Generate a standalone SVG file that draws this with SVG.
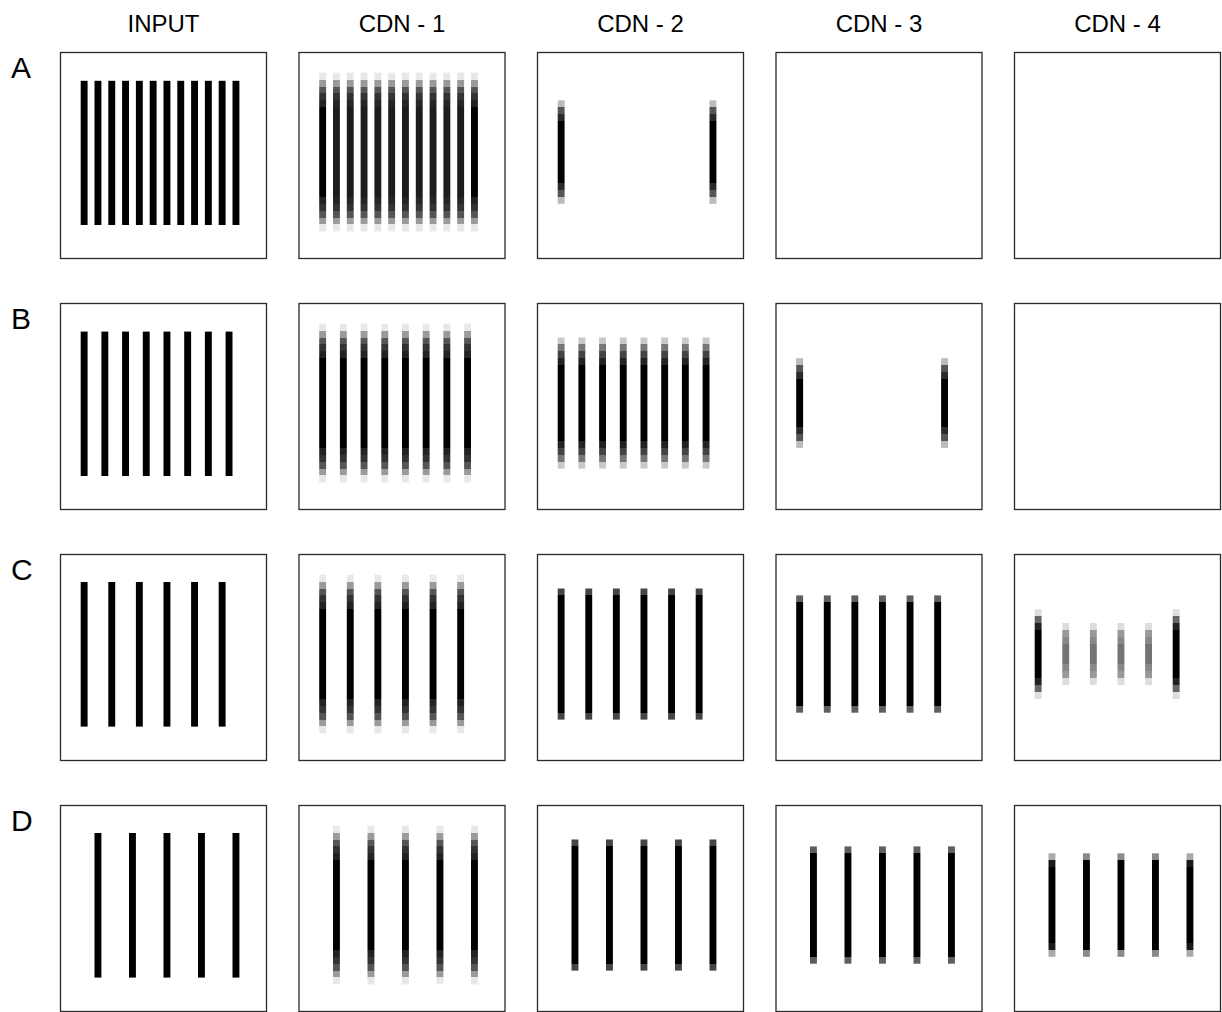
<svg xmlns="http://www.w3.org/2000/svg" width="1222" height="1012" viewBox="0 0 1222 1012">
<style>
text { font-family: "Liberation Sans", Arial, sans-serif; fill: #000; }
.col { font-size: 24px; text-anchor: middle; }
.row { font-size: 30px; }
.frame { fill: #fff; stroke: #2a2a2a; stroke-width: 1.3; }
.in { fill: #000; }
.b1e { fill: url(#g1e); } .b1i { fill: url(#g1i); }
.b2a { fill: url(#g2a); } .b2b { fill: url(#g2b); }
.b3 { fill: url(#g3); } .b4 { fill: url(#g4); } .b5 { fill: url(#g5); }
.b6 { fill: url(#g6); } .b7 { fill: url(#g7); } .b8 { fill: url(#g8); } .b9 { fill: url(#g9); }
</style>
<defs>
<linearGradient id="g1e" x1="0" y1="0" x2="0" y2="1">
<stop offset="0" stop-color="#e8e8e8"/><stop offset=".0435" stop-color="#e8e8e8"/>
<stop offset=".0435" stop-color="#9a9a9a"/><stop offset=".087" stop-color="#9a9a9a"/>
<stop offset=".087" stop-color="#555"/><stop offset=".1304" stop-color="#555"/>
<stop offset=".1304" stop-color="#333"/><stop offset=".1739" stop-color="#333"/>
<stop offset=".1739" stop-color="#222"/><stop offset=".2174" stop-color="#222"/>
<stop offset=".2174" stop-color="#000"/><stop offset=".7826" stop-color="#000"/>
<stop offset=".7826" stop-color="#222"/><stop offset=".8261" stop-color="#222"/>
<stop offset=".8261" stop-color="#333"/><stop offset=".8696" stop-color="#333"/>
<stop offset=".8696" stop-color="#555"/><stop offset=".913" stop-color="#555"/>
<stop offset=".913" stop-color="#9a9a9a"/><stop offset=".9565" stop-color="#9a9a9a"/>
<stop offset=".9565" stop-color="#e8e8e8"/><stop offset="1" stop-color="#e8e8e8"/>
</linearGradient>
<linearGradient id="g1i" x1="0" y1="0" x2="0" y2="1">
<stop offset="0" stop-color="#e8e8e8"/><stop offset=".0435" stop-color="#e8e8e8"/>
<stop offset=".0435" stop-color="#9a9a9a"/><stop offset=".087" stop-color="#9a9a9a"/>
<stop offset=".087" stop-color="#555"/><stop offset=".1304" stop-color="#555"/>
<stop offset=".1304" stop-color="#333"/><stop offset=".1739" stop-color="#333"/>
<stop offset=".1739" stop-color="#262626"/><stop offset=".2174" stop-color="#262626"/>
<stop offset=".2174" stop-color="#1c1c1c"/><stop offset=".7826" stop-color="#1c1c1c"/>
<stop offset=".7826" stop-color="#262626"/><stop offset=".8261" stop-color="#262626"/>
<stop offset=".8261" stop-color="#333"/><stop offset=".8696" stop-color="#333"/>
<stop offset=".8696" stop-color="#555"/><stop offset=".913" stop-color="#555"/>
<stop offset=".913" stop-color="#9a9a9a"/><stop offset=".9565" stop-color="#9a9a9a"/>
<stop offset=".9565" stop-color="#e8e8e8"/><stop offset="1" stop-color="#e8e8e8"/>
</linearGradient>
<linearGradient id="g2a" x1="0" y1="0" x2="0" y2="1">
<stop offset="0" stop-color="#bbb"/><stop offset=".0667" stop-color="#bbb"/>
<stop offset=".0667" stop-color="#555"/><stop offset=".1333" stop-color="#555"/>
<stop offset=".1333" stop-color="#2a2a2a"/><stop offset=".2" stop-color="#2a2a2a"/>
<stop offset=".2" stop-color="#000"/><stop offset=".8" stop-color="#000"/>
<stop offset=".8" stop-color="#2a2a2a"/><stop offset=".8667" stop-color="#2a2a2a"/>
<stop offset=".8667" stop-color="#555"/><stop offset=".9333" stop-color="#555"/>
<stop offset=".9333" stop-color="#bbb"/><stop offset="1" stop-color="#bbb"/>
</linearGradient>
<linearGradient id="g2b" x1="0" y1="0" x2="0" y2="1">
<stop offset="0" stop-color="#bbb"/><stop offset=".0769" stop-color="#bbb"/>
<stop offset=".0769" stop-color="#555"/><stop offset=".1538" stop-color="#555"/>
<stop offset=".1538" stop-color="#2a2a2a"/><stop offset=".2308" stop-color="#2a2a2a"/>
<stop offset=".2308" stop-color="#000"/><stop offset=".7692" stop-color="#000"/>
<stop offset=".7692" stop-color="#2a2a2a"/><stop offset=".8462" stop-color="#2a2a2a"/>
<stop offset=".8462" stop-color="#555"/><stop offset=".9231" stop-color="#555"/>
<stop offset=".9231" stop-color="#bbb"/><stop offset="1" stop-color="#bbb"/>
</linearGradient>
<linearGradient id="g3" x1="0" y1="0" x2="0" y2="1">
<stop offset="0" stop-color="#c8c8c8"/><stop offset=".0526" stop-color="#c8c8c8"/>
<stop offset=".0526" stop-color="#777"/><stop offset=".1053" stop-color="#777"/>
<stop offset=".1053" stop-color="#444"/><stop offset=".1579" stop-color="#444"/>
<stop offset=".1579" stop-color="#222"/><stop offset=".2105" stop-color="#222"/>
<stop offset=".2105" stop-color="#000"/><stop offset=".7895" stop-color="#000"/>
<stop offset=".7895" stop-color="#222"/><stop offset=".8421" stop-color="#222"/>
<stop offset=".8421" stop-color="#444"/><stop offset=".8947" stop-color="#444"/>
<stop offset=".8947" stop-color="#777"/><stop offset=".9474" stop-color="#777"/>
<stop offset=".9474" stop-color="#c8c8c8"/><stop offset="1" stop-color="#c8c8c8"/>
</linearGradient>
<linearGradient id="g4" x1="0" y1="0" x2="0" y2="1">
<stop offset="0" stop-color="#444"/><stop offset=".0526" stop-color="#444"/>
<stop offset=".0526" stop-color="#000"/><stop offset=".9474" stop-color="#000"/>
<stop offset=".9474" stop-color="#444"/><stop offset="1" stop-color="#444"/>
</linearGradient>
<linearGradient id="g5" x1="0" y1="0" x2="0" y2="1">
<stop offset="0" stop-color="#5e5e5e"/><stop offset=".0588" stop-color="#5e5e5e"/>
<stop offset=".0588" stop-color="#000"/><stop offset=".9412" stop-color="#000"/>
<stop offset=".9412" stop-color="#5e5e5e"/><stop offset="1" stop-color="#5e5e5e"/>
</linearGradient>
<linearGradient id="g6" x1="0" y1="0" x2="0" y2="1">
<stop offset="0" stop-color="#ddd"/><stop offset=".0769" stop-color="#ddd"/>
<stop offset=".0769" stop-color="#666"/><stop offset=".1538" stop-color="#666"/>
<stop offset=".1538" stop-color="#222"/><stop offset=".2308" stop-color="#222"/>
<stop offset=".2308" stop-color="#000"/><stop offset=".7692" stop-color="#000"/>
<stop offset=".7692" stop-color="#222"/><stop offset=".8462" stop-color="#222"/>
<stop offset=".8462" stop-color="#666"/><stop offset=".9231" stop-color="#666"/>
<stop offset=".9231" stop-color="#ddd"/><stop offset="1" stop-color="#ddd"/>
</linearGradient>
<linearGradient id="g7" x1="0" y1="0" x2="0" y2="1">
<stop offset="0" stop-color="#ddd"/><stop offset=".1111" stop-color="#ddd"/>
<stop offset=".1111" stop-color="#999"/><stop offset=".2222" stop-color="#999"/>
<stop offset=".2222" stop-color="#888"/><stop offset=".3333" stop-color="#888"/>
<stop offset=".3333" stop-color="#737373"/><stop offset=".6667" stop-color="#737373"/>
<stop offset=".6667" stop-color="#888"/><stop offset=".7778" stop-color="#888"/>
<stop offset=".7778" stop-color="#999"/><stop offset=".8889" stop-color="#999"/>
<stop offset=".8889" stop-color="#ddd"/><stop offset="1" stop-color="#ddd"/>
</linearGradient>
<linearGradient id="g8" x1="0" y1="0" x2="0" y2="1">
<stop offset="0" stop-color="#aaa"/><stop offset=".0667" stop-color="#aaa"/>
<stop offset=".0667" stop-color="#1a1a1a"/><stop offset=".1333" stop-color="#1a1a1a"/>
<stop offset=".1333" stop-color="#000"/><stop offset=".8667" stop-color="#000"/>
<stop offset=".8667" stop-color="#1a1a1a"/><stop offset=".9333" stop-color="#1a1a1a"/>
<stop offset=".9333" stop-color="#aaa"/><stop offset="1" stop-color="#aaa"/>
</linearGradient>
<linearGradient id="g9" x1="0" y1="0" x2="0" y2="1">
<stop offset="0" stop-color="#8a8a8a"/><stop offset=".0667" stop-color="#8a8a8a"/>
<stop offset=".0667" stop-color="#000"/><stop offset=".9333" stop-color="#000"/>
<stop offset=".9333" stop-color="#8a8a8a"/><stop offset="1" stop-color="#8a8a8a"/>
</linearGradient>
</defs>
<rect width="1222" height="1012" fill="#fff"/>

<g id="labels">
<text class="col" x="163.5" y="32">INPUT</text>
<text class="col" x="402" y="32">CDN - 1</text>
<text class="col" x="640.5" y="32">CDN - 2</text>
<text class="col" x="879" y="32">CDN - 3</text>
<text class="col" x="1117.5" y="32">CDN - 4</text>
<text class="row" x="11" y="78">A</text>
<text class="row" x="11" y="329">B</text>
<text class="row" x="11" y="580">C</text>
<text class="row" x="11" y="831">D</text>
</g>

<g id="connectors"></g>

<!-- Row A -->
<g id="A-input" transform="translate(60,52)">
<rect class="frame" x="0.5" y="0.5" width="206" height="206"/>
<g class="in">
<rect x="20.7" y="28.8" width="6.9" height="144.2"/><rect x="34.5" y="28.8" width="6.9" height="144.2"/>
<rect x="48.3" y="28.8" width="6.9" height="144.2"/><rect x="62.1" y="28.8" width="6.9" height="144.2"/>
<rect x="75.9" y="28.8" width="6.9" height="144.2"/><rect x="89.7" y="28.8" width="6.9" height="144.2"/>
<rect x="103.5" y="28.8" width="6.9" height="144.2"/><rect x="117.3" y="28.8" width="6.9" height="144.2"/>
<rect x="131.1" y="28.8" width="6.9" height="144.2"/><rect x="144.9" y="28.8" width="6.9" height="144.2"/>
<rect x="158.7" y="28.8" width="6.9" height="144.2"/><rect x="172.5" y="28.8" width="6.9" height="144.2"/>
</g>
</g>
<g id="A-cdn1" transform="translate(298.5,52)">
<rect class="frame" x="0.5" y="0.5" width="206" height="206"/>
<rect class="b1e" x="20.7" y="20.7" width="6.9" height="158.7"/>
<rect class="b1i" x="34.5" y="20.7" width="6.9" height="158.7"/>
<rect class="b1i" x="48.3" y="20.7" width="6.9" height="158.7"/>
<rect class="b1i" x="62.1" y="20.7" width="6.9" height="158.7"/>
<rect class="b1i" x="75.9" y="20.7" width="6.9" height="158.7"/>
<rect class="b1i" x="89.7" y="20.7" width="6.9" height="158.7"/>
<rect class="b1i" x="103.5" y="20.7" width="6.9" height="158.7"/>
<rect class="b1i" x="117.3" y="20.7" width="6.9" height="158.7"/>
<rect class="b1i" x="131.1" y="20.7" width="6.9" height="158.7"/>
<rect class="b1i" x="144.9" y="20.7" width="6.9" height="158.7"/>
<rect class="b1i" x="158.7" y="20.7" width="6.9" height="158.7"/>
<rect class="b1e" x="172.5" y="20.7" width="6.9" height="158.7"/>
</g>
<g id="A-cdn2" transform="translate(537,52)">
<rect class="frame" x="0.5" y="0.5" width="206" height="206"/>
<rect class="b2a" x="20.7" y="48.3" width="6.9" height="103.5"/>
<rect class="b2a" x="172.5" y="48.3" width="6.9" height="103.5"/>
</g>
<g id="A-cdn3" transform="translate(775.5,52)">
<rect class="frame" x="0.5" y="0.5" width="206" height="206"/>
</g>
<g id="A-cdn4" transform="translate(1014,52)">
<rect class="frame" x="0.5" y="0.5" width="206" height="206"/>
</g>

<!-- Row B -->
<g id="B-input" transform="translate(60,303)">
<rect class="frame" x="0.5" y="0.5" width="206" height="206"/>
<g class="in">
<rect x="20.7" y="28.6" width="6.9" height="144.4"/><rect x="41.4" y="28.6" width="6.9" height="144.4"/>
<rect x="62.1" y="28.6" width="6.9" height="144.4"/><rect x="82.8" y="28.6" width="6.9" height="144.4"/>
<rect x="103.5" y="28.6" width="6.9" height="144.4"/><rect x="124.2" y="28.6" width="6.9" height="144.4"/>
<rect x="144.9" y="28.6" width="6.9" height="144.4"/><rect x="165.6" y="28.6" width="6.9" height="144.4"/>
</g>
</g>
<g id="B-cdn1" transform="translate(298.5,303)">
<rect class="frame" x="0.5" y="0.5" width="206" height="206"/>
<rect class="b1e" x="20.7" y="20.7" width="6.9" height="158.7"/>
<rect class="b1e" x="41.4" y="20.7" width="6.9" height="158.7"/>
<rect class="b1e" x="62.1" y="20.7" width="6.9" height="158.7"/>
<rect class="b1e" x="82.8" y="20.7" width="6.9" height="158.7"/>
<rect class="b1e" x="103.5" y="20.7" width="6.9" height="158.7"/>
<rect class="b1e" x="124.2" y="20.7" width="6.9" height="158.7"/>
<rect class="b1e" x="144.9" y="20.7" width="6.9" height="158.7"/>
<rect class="b1e" x="165.6" y="20.7" width="6.9" height="158.7"/>
</g>
<g id="B-cdn2" transform="translate(537,303)">
<rect class="frame" x="0.5" y="0.5" width="206" height="206"/>
<rect class="b3" x="20.7" y="34.5" width="6.9" height="131.1"/>
<rect class="b3" x="41.4" y="34.5" width="6.9" height="131.1"/>
<rect class="b3" x="62.1" y="34.5" width="6.9" height="131.1"/>
<rect class="b3" x="82.8" y="34.5" width="6.9" height="131.1"/>
<rect class="b3" x="103.5" y="34.5" width="6.9" height="131.1"/>
<rect class="b3" x="124.2" y="34.5" width="6.9" height="131.1"/>
<rect class="b3" x="144.9" y="34.5" width="6.9" height="131.1"/>
<rect class="b3" x="165.6" y="34.5" width="6.9" height="131.1"/>
</g>
<g id="B-cdn3" transform="translate(775.5,303)">
<rect class="frame" x="0.5" y="0.5" width="206" height="206"/>
<rect class="b2b" x="20.7" y="55.2" width="6.9" height="89.7"/>
<rect class="b2b" x="165.6" y="55.2" width="6.9" height="89.7"/>
</g>
<g id="B-cdn4" transform="translate(1014,303)">
<rect class="frame" x="0.5" y="0.5" width="206" height="206"/>
</g>

<!-- Row C -->
<g id="C-input" transform="translate(60,554)">
<rect class="frame" x="0.5" y="0.5" width="206" height="206"/>
<g class="in">
<rect x="20.7" y="28" width="6.9" height="144.6"/><rect x="48.3" y="28" width="6.9" height="144.6"/>
<rect x="75.9" y="28" width="6.9" height="144.6"/><rect x="103.5" y="28" width="6.9" height="144.6"/>
<rect x="131.1" y="28" width="6.9" height="144.6"/><rect x="158.7" y="28" width="6.9" height="144.6"/>
</g>
</g>
<g id="C-cdn1" transform="translate(298.5,554)">
<rect class="frame" x="0.5" y="0.5" width="206" height="206"/>
<rect class="b1e" x="20.7" y="20.7" width="6.9" height="158.7"/>
<rect class="b1e" x="48.3" y="20.7" width="6.9" height="158.7"/>
<rect class="b1e" x="75.9" y="20.7" width="6.9" height="158.7"/>
<rect class="b1e" x="103.5" y="20.7" width="6.9" height="158.7"/>
<rect class="b1e" x="131.1" y="20.7" width="6.9" height="158.7"/>
<rect class="b1e" x="158.7" y="20.7" width="6.9" height="158.7"/>
</g>
<g id="C-cdn2" transform="translate(537,554)">
<rect class="frame" x="0.5" y="0.5" width="206" height="206"/>
<rect class="b4" x="20.7" y="34.5" width="6.9" height="131.1"/>
<rect class="b4" x="48.3" y="34.5" width="6.9" height="131.1"/>
<rect class="b4" x="75.9" y="34.5" width="6.9" height="131.1"/>
<rect class="b4" x="103.5" y="34.5" width="6.9" height="131.1"/>
<rect class="b4" x="131.1" y="34.5" width="6.9" height="131.1"/>
<rect class="b4" x="158.7" y="34.5" width="6.9" height="131.1"/>
</g>
<g id="C-cdn3" transform="translate(775.5,554)">
<rect class="frame" x="0.5" y="0.5" width="206" height="206"/>
<rect class="b5" x="20.7" y="41.4" width="6.9" height="117.3"/>
<rect class="b5" x="48.3" y="41.4" width="6.9" height="117.3"/>
<rect class="b5" x="75.9" y="41.4" width="6.9" height="117.3"/>
<rect class="b5" x="103.5" y="41.4" width="6.9" height="117.3"/>
<rect class="b5" x="131.1" y="41.4" width="6.9" height="117.3"/>
<rect class="b5" x="158.7" y="41.4" width="6.9" height="117.3"/>
</g>
<g id="C-cdn4" transform="translate(1014,554)">
<rect class="frame" x="0.5" y="0.5" width="206" height="206"/>
<rect class="b6" x="20.7" y="55.2" width="6.9" height="89.7"/>
<rect class="b7" x="48.3" y="69" width="6.9" height="62.1"/>
<rect class="b7" x="75.9" y="69" width="6.9" height="62.1"/>
<rect class="b7" x="103.5" y="69" width="6.9" height="62.1"/>
<rect class="b7" x="131.1" y="69" width="6.9" height="62.1"/>
<rect class="b6" x="158.7" y="55.2" width="6.9" height="89.7"/>
</g>

<!-- Row D -->
<g id="D-input" transform="translate(60,805)">
<rect class="frame" x="0.5" y="0.5" width="206" height="206"/>
<g class="in">
<rect x="34.5" y="28" width="6.9" height="144.6"/><rect x="69" y="28" width="6.9" height="144.6"/>
<rect x="103.5" y="28" width="6.9" height="144.6"/><rect x="138" y="28" width="6.9" height="144.6"/>
<rect x="172.5" y="28" width="6.9" height="144.6"/>
</g>
</g>
<g id="D-cdn1" transform="translate(298.5,805)">
<rect class="frame" x="0.5" y="0.5" width="206" height="206"/>
<rect class="b1e" x="34.5" y="20.7" width="6.9" height="158.7"/>
<rect class="b1e" x="69" y="20.7" width="6.9" height="158.7"/>
<rect class="b1e" x="103.5" y="20.7" width="6.9" height="158.7"/>
<rect class="b1e" x="138" y="20.7" width="6.9" height="158.7"/>
<rect class="b1e" x="172.5" y="20.7" width="6.9" height="158.7"/>
</g>
<g id="D-cdn2" transform="translate(537,805)">
<rect class="frame" x="0.5" y="0.5" width="206" height="206"/>
<rect class="b4" x="34.5" y="34.5" width="6.9" height="131.1"/>
<rect class="b4" x="69" y="34.5" width="6.9" height="131.1"/>
<rect class="b4" x="103.5" y="34.5" width="6.9" height="131.1"/>
<rect class="b4" x="138" y="34.5" width="6.9" height="131.1"/>
<rect class="b4" x="172.5" y="34.5" width="6.9" height="131.1"/>
</g>
<g id="D-cdn3" transform="translate(775.5,805)">
<rect class="frame" x="0.5" y="0.5" width="206" height="206"/>
<rect class="b5" x="34.5" y="41.4" width="6.9" height="117.3"/>
<rect class="b5" x="69" y="41.4" width="6.9" height="117.3"/>
<rect class="b5" x="103.5" y="41.4" width="6.9" height="117.3"/>
<rect class="b5" x="138" y="41.4" width="6.9" height="117.3"/>
<rect class="b5" x="172.5" y="41.4" width="6.9" height="117.3"/>
</g>
<g id="D-cdn4" transform="translate(1014,805)">
<rect class="frame" x="0.5" y="0.5" width="206" height="206"/>
<rect class="b8" x="34.5" y="48.3" width="6.9" height="103.5"/>
<rect class="b9" x="69" y="48.3" width="6.9" height="103.5"/>
<rect class="b9" x="103.5" y="48.3" width="6.9" height="103.5"/>
<rect class="b9" x="138" y="48.3" width="6.9" height="103.5"/>
<rect class="b8" x="172.5" y="48.3" width="6.9" height="103.5"/>
</g>
</svg>
